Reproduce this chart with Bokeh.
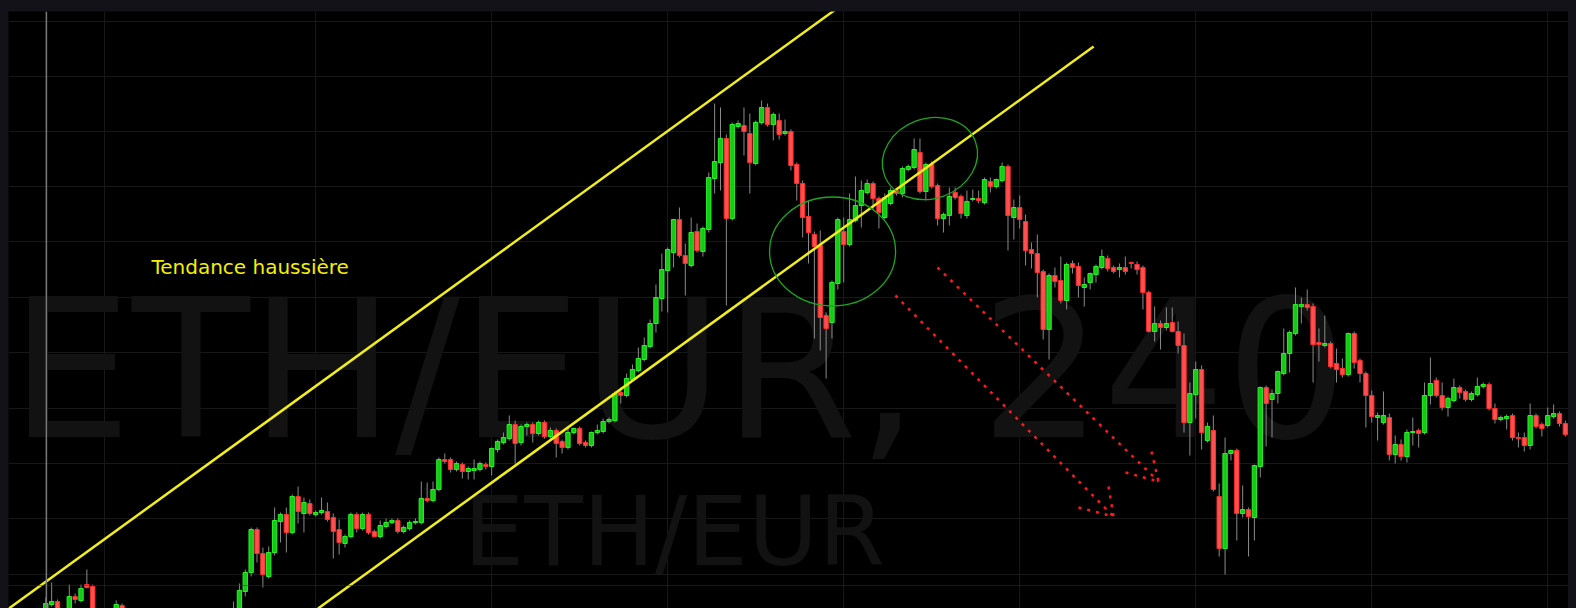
from bokeh.plotting import figure
from bokeh.models import Range1d, FixedTicker, ColumnDataSource, Span
from bokeh.embed import file_html
from bokeh.resources import INLINE
from bokeh.core.properties import value

# ---------------- data (4h candles, ETH/EUR) ----------------
OPEN = [
    1982, 1996, 1999, 1986, 1980, 2004, 2000, 2016, 2014, 1984,
    1972, 1978, 1988, 1995, 1986, 1976, 1968, 1960, 1970, 1965,
    1955, 1958, 1963, 1968, 1962, 1952, 1956, 1962, 1970, 1974,
    1978, 1982, 1985, 1990, 2009, 2028, 2071, 2047, 2024, 2048,
    2079, 2086, 2068, 2104, 2087, 2097, 2086, 2088, 2089, 2083,
    2071, 2057, 2064, 2086, 2072, 2086, 2069, 2064, 2074, 2078,
    2080, 2069, 2072, 2078, 2078, 2102, 2100, 2111, 2141, 2141,
    2131, 2136, 2129, 2130, 2131, 2136, 2134, 2151, 2158, 2162,
    2176, 2158, 2174, 2176, 2167, 2178, 2164, 2170, 2159, 2153,
    2168, 2172, 2158, 2155, 2168, 2169, 2179, 2180, 2208, 2205,
    2221, 2230, 2241, 2254, 2277, 2302, 2330, 2348, 2381, 2345,
    2335, 2369, 2349, 2371, 2422, 2438, 2462, 2382, 2474, 2475,
    2467, 2437, 2478, 2493, 2476, 2480, 2467, 2469, 2436, 2417,
    2384, 2366, 2355, 2285, 2278, 2317, 2369, 2356, 2380, 2395,
    2408, 2417, 2402, 2383, 2397, 2410, 2407, 2431, 2433, 2448,
    2409, 2436, 2415, 2382, 2385, 2408, 2404, 2385, 2401, 2402,
    2398, 2419, 2414, 2420, 2434, 2383, 2393, 2379, 2351, 2347,
    2329, 2271, 2325, 2320, 2300, 2337, 2334, 2313, 2318, 2326,
    2333, 2342, 2333, 2331, 2333, 2338, 2336, 2333, 2308, 2269,
    2277, 2273, 2278, 2269, 2255, 2178, 2206, 2231, 2160, 2170,
    2104, 2052, 2147, 2150, 2087, 2091, 2083, 2134, 2213, 2201,
    2207, 2227, 2247, 2267, 2294, 2296, 2294, 2258, 2255, 2257,
    2237, 2232, 2226, 2267, 2240, 2227, 2205, 2183, 2178, 2183,
    2146, 2156, 2144, 2168, 2170, 2168, 2205, 2220, 2205, 2193,
    2200, 2213, 2209, 2201, 2206, 2214, 2216, 2192, 2181, 2182,
    2185, 2163, 2163, 2155, 2185, 2176, 2175, 2184, 2187, 2177,
    2166,
]
HIGH = [
    2003, 2018, 2001, 1990, 2016, 2007, 2016, 2031, 2016, 1988,
    1982, 1990, 2000, 1997, 1990, 1984, 1975, 1972, 1978, 1970,
    1962, 1968, 1972, 1975, 1966, 1960, 1966, 1975, 1980, 1984,
    1988, 1990, 1999, 2017, 2031, 2073, 2073, 2053, 2054, 2093,
    2088, 2093, 2106, 2114, 2103, 2101, 2090, 2103, 2098, 2087,
    2081, 2066, 2088, 2088, 2088, 2088, 2071, 2080, 2082, 2082,
    2082, 2075, 2080, 2082, 2119, 2118, 2119, 2143, 2147, 2143,
    2139, 2138, 2134, 2141, 2139, 2138, 2153, 2161, 2168, 2185,
    2180, 2176, 2178, 2178, 2180, 2180, 2173, 2172, 2161, 2173,
    2173, 2174, 2160, 2169, 2176, 2182, 2183, 2209, 2213, 2227,
    2236, 2253, 2263, 2281, 2316, 2347, 2353, 2381, 2393, 2357,
    2383, 2377, 2374, 2428, 2497, 2493, 2466, 2478, 2480, 2493,
    2487, 2480, 2500, 2497, 2488, 2487, 2481, 2471, 2438, 2420,
    2400, 2369, 2370, 2288, 2320, 2383, 2383, 2407, 2424, 2420,
    2421, 2419, 2404, 2407, 2413, 2412, 2434, 2436, 2462, 2462,
    2438, 2439, 2417, 2388, 2413, 2413, 2406, 2410, 2411, 2410,
    2423, 2423, 2422, 2438, 2436, 2401, 2405, 2386, 2358, 2366,
    2331, 2327, 2333, 2344, 2338, 2340, 2338, 2323, 2328, 2336,
    2351, 2345, 2335, 2337, 2344, 2339, 2339, 2335, 2310, 2294,
    2280, 2293, 2293, 2279, 2267, 2218, 2239, 2235, 2178, 2185,
    2117, 2163, 2151, 2152, 2115, 2093, 2136, 2214, 2215, 2211,
    2230, 2272, 2270, 2313, 2303, 2311, 2297, 2272, 2285, 2259,
    2252, 2242, 2268, 2269, 2242, 2229, 2210, 2188, 2209, 2187,
    2165, 2161, 2171, 2183, 2172, 2218, 2243, 2223, 2218, 2204,
    2222, 2215, 2211, 2209, 2223, 2218, 2218, 2197, 2185, 2186,
    2187, 2168, 2168, 2197, 2187, 2178, 2193, 2196, 2189, 2180,
    2175,
]
LOW = [
    1975, 1994, 1978, 1972, 1976, 1997, 1998, 2012, 1976, 1966,
    1964, 1974, 1985, 1980, 1972, 1962, 1955, 1956, 1962, 1950,
    1945, 1952, 1958, 1960, 1948, 1944, 1950, 1958, 1964, 1968,
    1972, 1976, 1980, 1986, 2004, 2024, 2038, 2013, 2022, 2045,
    2058, 2048, 2066, 2077, 2068, 2085, 2084, 2086, 2079, 2042,
    2046, 2053, 2062, 2068, 2070, 2066, 2063, 2062, 2072, 2076,
    2067, 2067, 2070, 2076, 2076, 2098, 2098, 2109, 2137, 2128,
    2129, 2122, 2121, 2121, 2129, 2131, 2125, 2148, 2156, 2160,
    2137, 2155, 2165, 2158, 2165, 2162, 2162, 2143, 2147, 2151,
    2166, 2155, 2153, 2153, 2166, 2167, 2177, 2178, 2197, 2203,
    2219, 2228, 2239, 2252, 2268, 2289, 2288, 2333, 2343, 2305,
    2333, 2348, 2344, 2368, 2407, 2410, 2295, 2380, 2472, 2445,
    2407, 2435, 2476, 2474, 2460, 2461, 2465, 2430, 2400, 2363,
    2337, 2262, 2250, 2222, 2262, 2311, 2318, 2354, 2378, 2373,
    2406, 2391, 2372, 2381, 2395, 2405, 2403, 2429, 2431, 2407,
    2400, 2412, 2375, 2368, 2375, 2401, 2382, 2382, 2399, 2397,
    2396, 2408, 2412, 2418, 2350, 2361, 2372, 2335, 2332, 2303,
    2261, 2241, 2313, 2297, 2291, 2327, 2303, 2294, 2311, 2318,
    2331, 2329, 2327, 2323, 2326, 2332, 2326, 2291, 2268, 2259,
    2251, 2270, 2268, 2247, 2168, 2145, 2182, 2151, 2158, 2109,
    2044, 2026, 2140, 2060, 2083, 2044, 2060, 2123, 2154, 2163,
    2197, 2225, 2228, 2265, 2277, 2290, 2218, 2239, 2253, 2232,
    2218, 2223, 2224, 2232, 2218, 2173, 2178, 2160, 2176, 2140,
    2137, 2140, 2138, 2155, 2153, 2166, 2196, 2203, 2190, 2184,
    2198, 2202, 2199, 2199, 2204, 2212, 2190, 2177, 2179, 2171,
    2160, 2153, 2149, 2151, 2172, 2164, 2173, 2182, 2174, 2164,
    2162,
]
CLOSE = [
    1997, 1999, 1986, 1980, 2004, 2001, 2012, 2013, 1984, 1972,
    1978, 1988, 1996, 1986, 1976, 1968, 1960, 1970, 1965, 1955,
    1958, 1963, 1968, 1962, 1952, 1956, 1962, 1970, 1974, 1978,
    1982, 1985, 1990, 2010, 2028, 2071, 2047, 2026, 2048, 2080,
    2086, 2068, 2104, 2089, 2098, 2087, 2088, 2090, 2081, 2069,
    2058, 2064, 2086, 2072, 2086, 2068, 2064, 2075, 2078, 2080,
    2069, 2073, 2078, 2079, 2102, 2100, 2111, 2141, 2139, 2131,
    2137, 2129, 2132, 2132, 2137, 2134, 2152, 2159, 2163, 2176,
    2157, 2174, 2176, 2167, 2178, 2164, 2170, 2157, 2153, 2168,
    2172, 2157, 2155, 2168, 2170, 2179, 2181, 2207, 2205, 2222,
    2231, 2242, 2255, 2277, 2303, 2331, 2351, 2381, 2345, 2337,
    2368, 2350, 2372, 2423, 2439, 2462, 2382, 2476, 2477, 2469,
    2438, 2478, 2493, 2476, 2486, 2466, 2469, 2435, 2417, 2383,
    2368, 2354, 2283, 2272, 2318, 2381, 2356, 2381, 2395, 2410,
    2417, 2402, 2388, 2403, 2410, 2407, 2432, 2434, 2451, 2409,
    2436, 2414, 2382, 2386, 2404, 2403, 2387, 2399, 2402, 2400,
    2421, 2414, 2421, 2434, 2385, 2393, 2381, 2350, 2347, 2328,
    2271, 2325, 2319, 2300, 2336, 2333, 2315, 2316, 2327, 2334,
    2344, 2332, 2329, 2333, 2329, 2337, 2331, 2308, 2269, 2277,
    2273, 2277, 2269, 2255, 2178, 2207, 2231, 2168, 2174, 2111,
    2052, 2147, 2150, 2087, 2091, 2084, 2135, 2213, 2197, 2207,
    2229, 2247, 2268, 2296, 2296, 2293, 2256, 2256, 2257, 2234,
    2231, 2226, 2267, 2238, 2227, 2205, 2184, 2185, 2185, 2146,
    2156, 2144, 2168, 2169, 2167, 2205, 2217, 2205, 2193, 2202,
    2213, 2208, 2201, 2207, 2214, 2216, 2192, 2181, 2183, 2184,
    2163, 2162, 2155, 2185, 2174, 2172, 2185, 2187, 2177, 2166,
    2172,
]

GRID_PRICES = [2026, 2082, 2137, 2192, 2248, 2303, 2359, 2414, 2469, 2524, 2579]
GRID_BARS = [10, 46, 76, 106, 136, 166, 196, 226, 256]
SUPPORT_PRICE = 2015
MARKER_BAR = 0.1

TREND_UPPER_X = [-6.3, 134.6]
TREND_UPPER_Y = [1992, 2591]
TREND_LOWER_X = [46.4, 178.6]
TREND_LOWER_Y = [1992, 2554]

CIRCLE_X = [134.1, 150.7]
CIRCLE_Y = [2349, 2442]
CIRCLE_W = [126, 97]
CIRCLE_H = [109, 80]
CIRCLE_ANGLE = [0.0, 0.35]

ARROW_XS = [[151.99, 189.66], [188.46, 189.66], [184.03, 189.66],
            [144.82, 181.99], [181.14, 181.99], [176.02, 181.99]]
ARROW_YS = [[2333, 2119], [2149, 2119], [2128, 2119],
            [2305, 2084], [2114, 2084], [2093, 2084]]

LABEL_TEXT = "Tendance haussière"
LABEL_X, LABEL_Y = 18.0, 2334
WATERMARK_BIG = "ETH/EUR, 240"
WATERMARK_BIG_X, WATERMARK_BIG_Y = -6.1, 2230
WATERMARK_SMALL = "ETH/EUR"
WATERMARK_SMALL_X, WATERMARK_SMALL_Y = 71.2, 2069

# ---------------- figure ----------------
N = len(CLOSE)
idx = list(range(N))
up = [c >= o for o, c in zip(OPEN, CLOSE)]
src = ColumnDataSource(dict(
    x=idx, open=OPEN, high=HIGH, low=LOW, close=CLOSE,
    top=[max(o, c) for o, c in zip(OPEN, CLOSE)],
    bottom=[min(o, c) for o, c in zip(OPEN, CLOSE)],
    fill=["#16c916" if u else "#ff5050" for u in up],
    edge=["#27f227" if u else "#ff2c2c" for u in up],
))

p = figure(width=1568, height=600, output_backend="svg", toolbar_location=None,
           x_range=Range1d(-6.3576, 260.90), y_range=Range1d(1992, 2589),
           min_border_top=3, min_border_left=0, min_border_right=0, min_border_bottom=0,
           background_fill_color="#000000", border_fill_color="#131218",
           outline_line_color=None)
p.xaxis.visible = False
p.yaxis.visible = False
p.xgrid.ticker = FixedTicker(ticks=GRID_BARS)
p.ygrid.ticker = FixedTicker(ticks=GRID_PRICES)
p.xgrid.grid_line_color = "#181818"
p.ygrid.grid_line_color = "#181818"
p.xgrid.grid_line_width = 1
p.ygrid.grid_line_width = 1

# watermark
p.text(x=[WATERMARK_BIG_X], y=[WATERMARK_BIG_Y], text=[WATERMARK_BIG],
       text_font=value("DejaVu Sans"), text_font_size="193px",
       text_color="#121212", text_baseline="alphabetic", text_align="left")
p.text(x=[WATERMARK_SMALL_X], y=[WATERMARK_SMALL_Y], text=[WATERMARK_SMALL],
       text_font=value("DejaVu Sans"), text_font_size="96px",
       text_color="#121212", text_baseline="alphabetic", text_align="left")

p.add_layout(Span(location=SUPPORT_PRICE, dimension="width", line_color="#8c0c0c",
                  line_dash="1 1", line_width=1))
p.add_layout(Span(location=MARKER_BAR, dimension="height", line_color="#7a7a7a",
                  line_width=1.5))

# candles
p.segment(x0="x", y0="low", x1="x", y1="high", source=src, line_color="#8a8a8a", line_width=1)
p.vbar(x="x", width=0.74, top="top", bottom="bottom", source=src,
       fill_color="fill", line_color="edge", line_width=1)

# trend channel
p.line(TREND_UPPER_X, TREND_UPPER_Y, line_color="#f2ee18", line_width=2.5)
p.line(TREND_LOWER_X, TREND_LOWER_Y, line_color="#f2ee18", line_width=2.5)

# circles
p.ellipse(x=CIRCLE_X, y=CIRCLE_Y, width=CIRCLE_W, height=CIRCLE_H, angle=CIRCLE_ANGLE,
          width_units="screen", height_units="screen",
          fill_color=None, line_color="#1fa51f", line_width=1.3)

# dotted arrows
p.multi_line(xs=ARROW_XS, ys=ARROW_YS, line_color="#ff1a1a", line_width=2.5,
             line_dash="3 6")

# label
p.text(x=[LABEL_X], y=[LABEL_Y], text=[LABEL_TEXT], text_font=value("DejaVu Sans"),
       text_font_size="20px", text_color="#f4f000", text_baseline="alphabetic",
       text_align="left")

html = file_html(p, INLINE, title="ETH/EUR 240")
css = ("<style>html,body{background:#131218 !important;overflow:hidden !important;}"
       "body{margin:8px !important;padding:0 !important;}</style>\n")
html = html.replace("</head>", css + "</head>", 1)
with open("out.html", "w", encoding="utf-8") as f:
    f.write(html)
